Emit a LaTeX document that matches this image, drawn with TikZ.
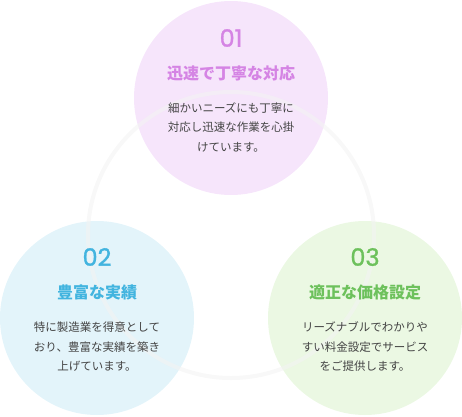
\documentclass[tikz,border=0pt]{standalone}
\usepackage{fontspec}
\setmainfont{Noto Sans CJK JP}
\newfontfamily\numfont{Poppins}[FakeBold=1.2]
\usetikzlibrary{positioning}

\definecolor{speedtext}{HTML}{D584E4}
\definecolor{speedfill}{HTML}{F6E5FB}
\definecolor{recordtext}{HTML}{42B4DF}
\definecolor{recordfill}{HTML}{E3F4FA}
\definecolor{pricetext}{HTML}{6DC15C}
\definecolor{pricefill}{HTML}{EBF8E3}
\definecolor{bodygray}{HTML}{444444}
\definecolor{ringgray}{HTML}{F3F3F3}

\begin{document}
\begin{tikzpicture}[x=1pt,y=1pt,
			every node/.style={
				inner sep=0pt,
				align=center
			},
			disc/.style={circle, minimum size=194pt},
			ring/.style={draw=ringgray, line width=4pt, opacity=0.6},
			num/.style={font=\numfont\fontsize{24}{24}\selectfont, text height=17pt, text depth=0pt},
			title/.style={font=\bfseries\fontsize{16}{16}\selectfont, text height=14pt, text depth=2pt},
			body/.style={font=\fontsize{11.5}{19.5}\selectfont, text=bodygray}]
			
			\useasboundingbox (0,0) rectangle (462,416);
			
			\node(speed)[disc, fill=speedfill] at (231,318){};
			
			\node(record)[disc, fill=recordfill] at (97,98){};
			
			\node(price)[disc, fill=pricefill] at (365,98){};
			
			\draw[ring](231,181) circle (143);
			
			\node(speednum)[num, text=speedtext, above=51pt of speed.center]{01};
			
			\node(speedtitle)[title, text=speedtext, below=18pt of speednum]{迅速で丁寧な対応};
			
			\node(speedbody)[body, below=21pt of speedtitle]{細かいニーズにも丁寧に\\対応し迅速な作業を心掛\\けています。};
			
			\node(recordnum)[num, text=recordtext, above=52pt of record.center]{02};
			
			\node(recordtitle)[title, text=recordtext, below=18.5pt of recordnum]{豊富な実績};
			
			\node(recordbody)[body, below=21pt of recordtitle]{特に製造業を得意として\\おり、豊富な実績を築き\\上げています。};
			
			\node(pricenum)[num, text=pricetext, above=52pt of price.center]{03};
			
			\node(pricetitle)[title, text=pricetext, below=18.5pt of pricenum]{適正な価格設定};
			
			\node(pricebody)[body, below=21pt of pricetitle]{リーズナブルでわかりや\\すい料金設定でサービス\\をご提供します。};
			
		\end{tikzpicture}
\end{document}
